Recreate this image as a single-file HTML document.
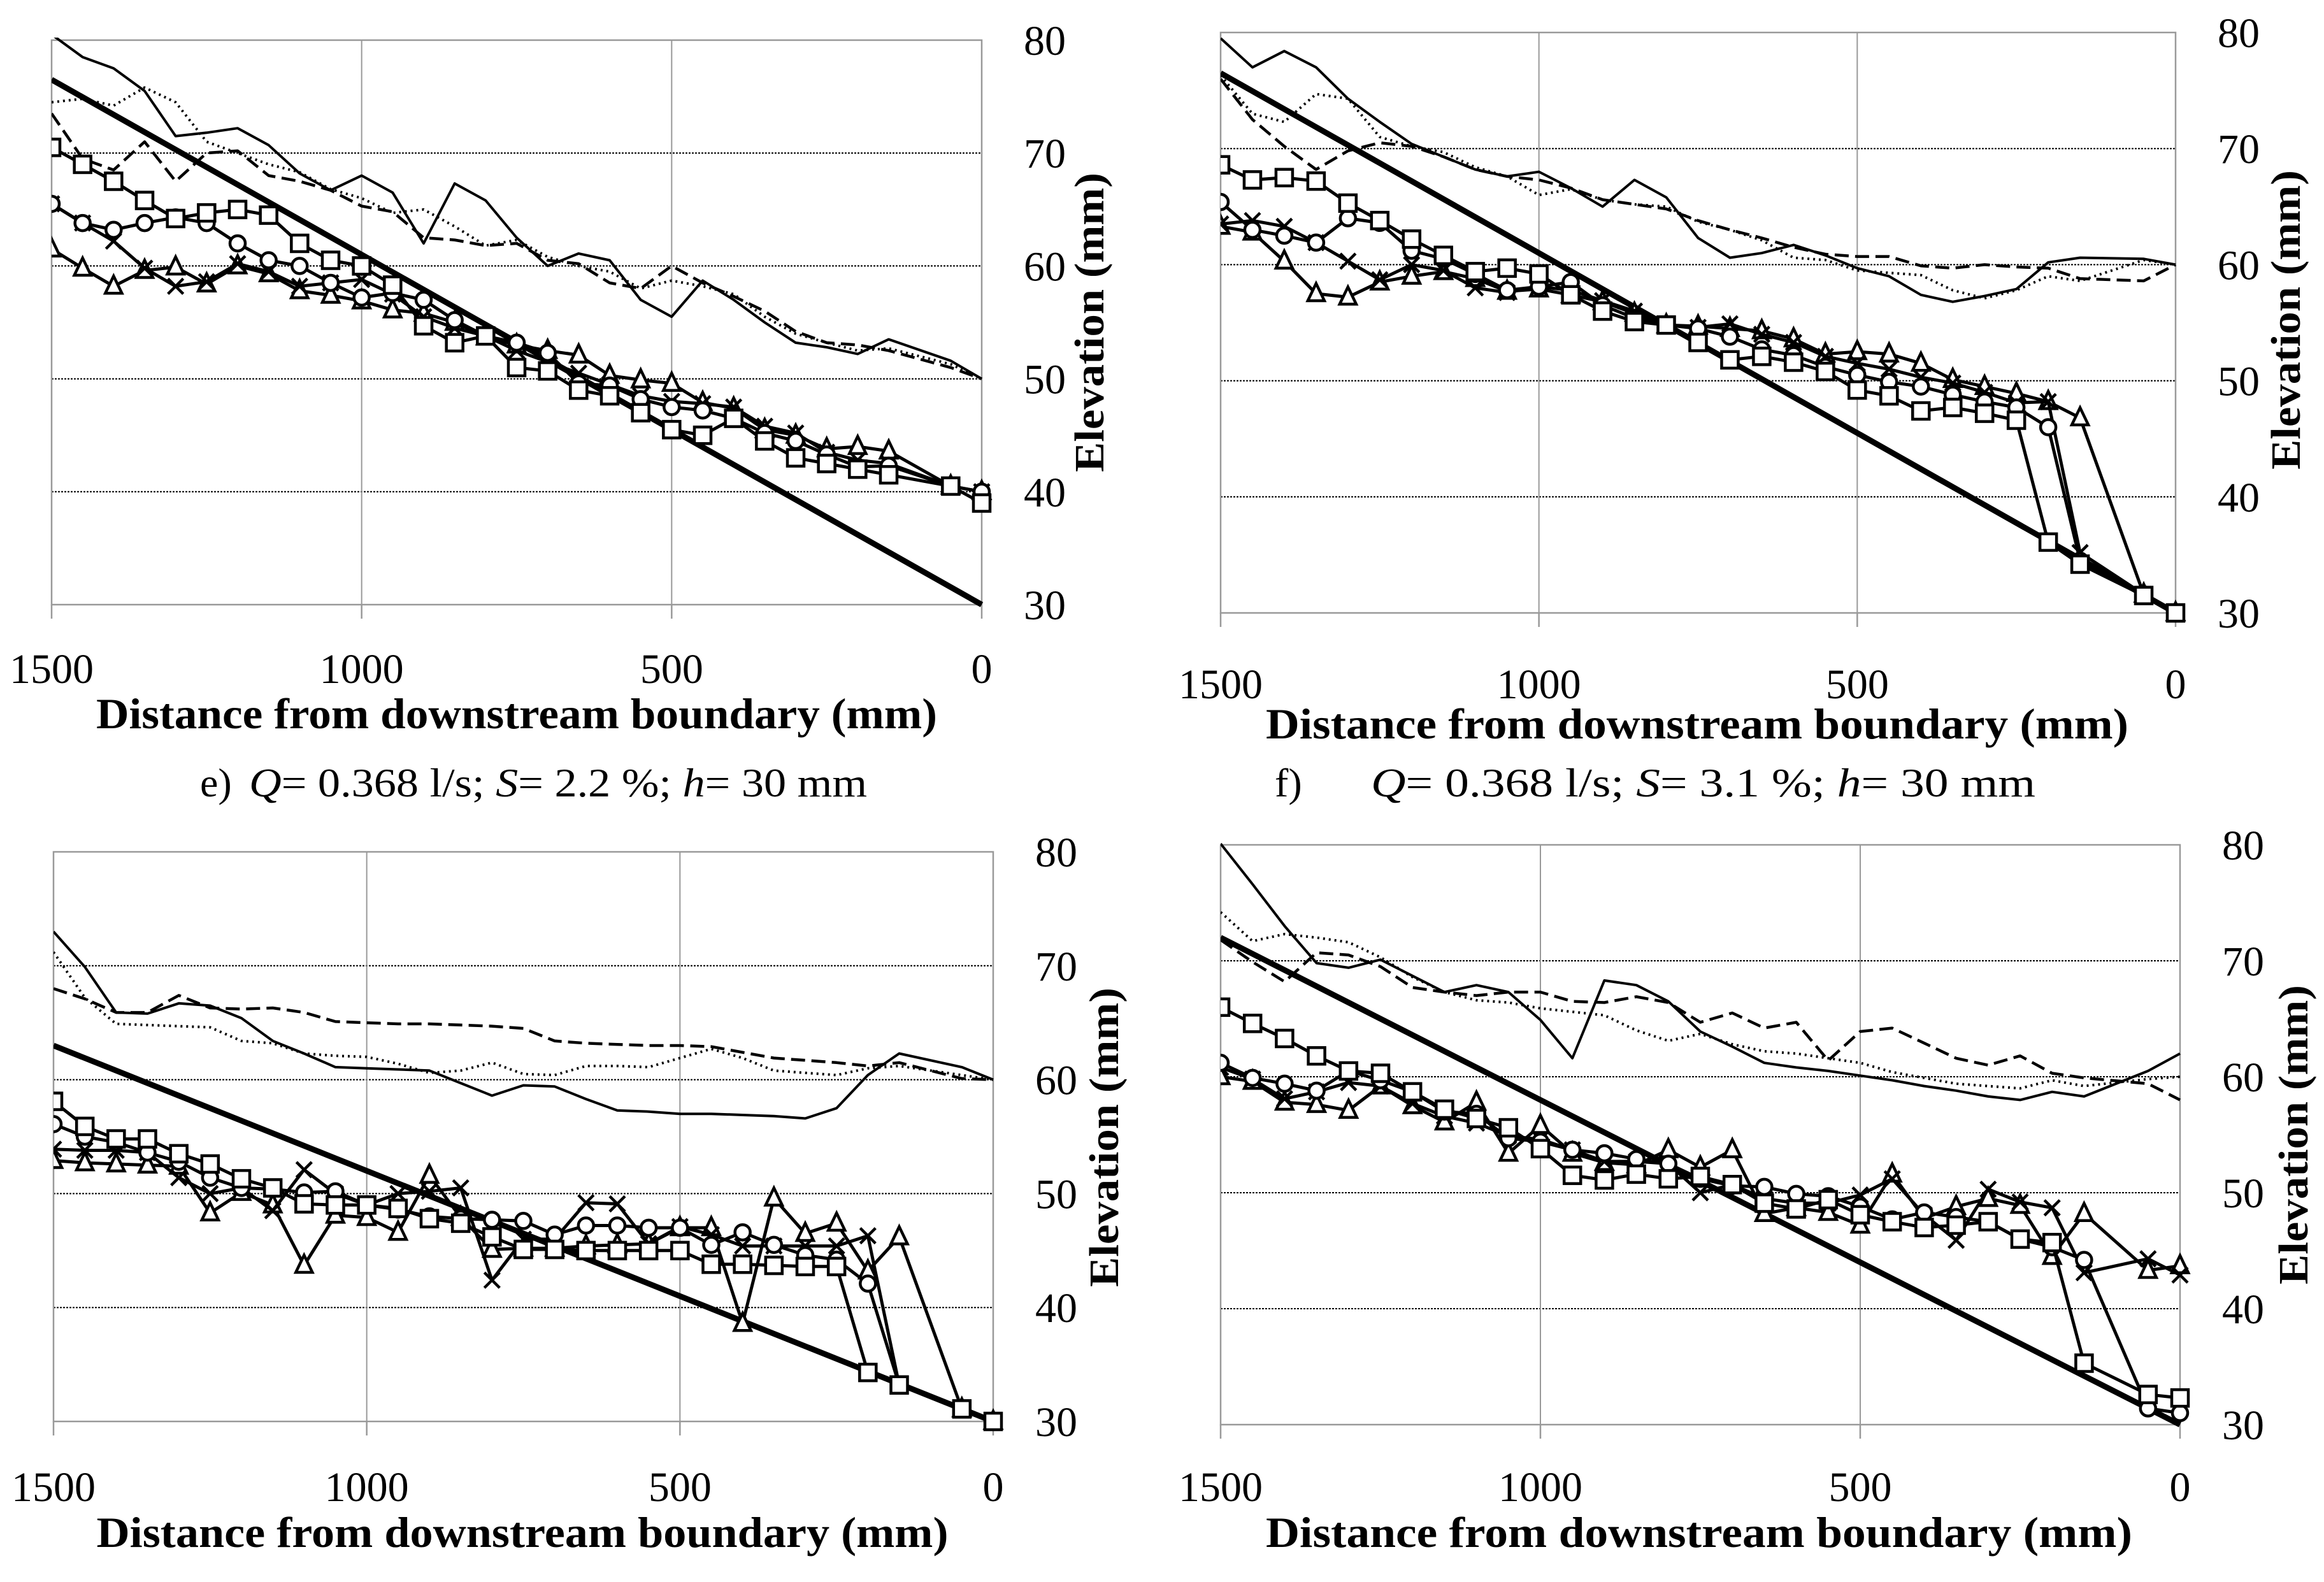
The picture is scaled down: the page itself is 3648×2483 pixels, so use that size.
<!DOCTYPE html>
<html><head><meta charset="utf-8"><title>Bed and water-surface profiles</title>
<style>
html,body{margin:0;padding:0;background:#fff;}
svg{display:block;}
text{font-family:"Liberation Serif",serif;fill:#000;}
</style></head>
<body>
<svg id="fig" width="3648" height="2483" viewBox="0 0 3648 2483" xmlns="http://www.w3.org/2000/svg">
<rect width="3648" height="2483" fill="#fff"/>
<text font-size="64" y="1250"><tspan x="314">e)</tspan></text>
<text font-size="64" x="391" y="1250" textLength="970" lengthAdjust="spacingAndGlyphs"><tspan font-style="italic">Q</tspan>= 0.368 l/s; <tspan font-style="italic">S</tspan>= 2.2 %; <tspan font-style="italic">h</tspan>= 30 mm</text>
<text font-size="64" y="1250"><tspan x="2001">f)</tspan></text>
<text font-size="64" x="2152" y="1250" textLength="1043" lengthAdjust="spacingAndGlyphs"><tspan font-style="italic">Q</tspan>= 0.368 l/s; <tspan font-style="italic">S</tspan>= 3.1 %; <tspan font-style="italic">h</tspan>= 30 mm</text>
</svg>
<script>
// shared distance categories (mm from downstream boundary)
const xDist = [1500,1450,1400,1350,1300,1250,1200,1150,1100,1050,1000,950,900,850,800,750,700,650,600,550,500,450,400,350,300,250,200,150,50,0];
const xTicks = [1500,1000,500,0];
const yTicks = [30,40,50,60,70,80];

// Panel 1 (top-left)
const p1Bed = [76.5,30];
const p1Solid = [80.5,78.5,77.5,75.5,71.5,71.8,72.2,70.7,68.2,66.7,68,66.5,62,67.3,65.8,62.5,60,61.1,60.5,57,55.5,58.7,57,55,53.2,52.8,52.2,53.5,51.6,50];
const p1Dotted = [74.5,74.8,74.2,75.8,74.5,71,70,69,68.3,66.8,66,64.7,65,63.5,61.8,62.3,60.8,60,59.5,58,58.7,58.2,57.5,55.5,54,53.2,52.5,52.7,51.3,50];
const p1Dashed = [73.5,69.5,68.5,71,67.5,70,70.2,68,67.5,66.7,65.3,64.8,62.5,62.3,61.8,62,60.5,60.2,58.5,58,60,58.5,57.3,56,54.2,53.2,53,52.5,51,50];
const p1Square = [70.5,69,67.5,65.8,64.2,64.7,65,64.5,62,60.5,60,58.3,54.7,53.2,53.8,51,50.7,49,48.5,47,45.5,45,46.5,44.5,43,42.5,42,41.5,40.5,39];
const p1Circle = [65.5,63.8,63.2,63.8,64.3,63.8,62,60.5,60,58.5,57.2,57.6,57,55.2,53.8,53.2,52.3,49.6,49.4,48.2,47.5,47.2,46.5,45.2,44.5,43.3,42.2,42.3,40.5,40];
const p1Cross = [65.5,63.8,62.2,59.8,58.2,58.6,60.2,59.5,58.2,58.5,58.8,57.5,55.5,54.5,53.8,52.5,51.5,50.5,49.5,48.5,48,47.8,47.5,45.8,45.2,43.5,42.8,42.5,40.5,40];
const p1Triangle = [61.5,59.8,58.2,59.6,59.9,58.4,60,59.3,57.8,57.4,56.9,56.1,55.8,55,53.7,53,52.5,52.1,50.3,49.9,49.6,47.9,47.4,45.5,45,43.8,44,43.6,40.5,40];

// Panel 2 (top-right)
const p2Bed = [76.5,30];
const p2Solid = [79.5,77,78.4,77,74.3,72.3,70.4,69.3,68.2,67.6,68,66.6,65,67.3,65.8,62.3,60.6,61,61.7,60.8,59.7,59,57.4,56.8,57.3,57.9,60.2,60.6,60.5,60];
const p2Dotted = [76.3,73,72.3,74.7,74.3,71,70.2,69.7,68.4,67.6,66,66.5,65.6,65.2,65,63.7,63,62.1,60.6,60.4,59.5,59.3,59.1,57.8,57.1,57.8,59,58.6,60.4,60];
const p2Dashed = [76,72.5,70.2,68.2,69.8,70.5,70.2,69.3,68.2,67.6,67.3,66.6,65.6,65.2,64.8,63.8,63,62.3,61.5,60.9,60.7,60.7,59.9,59.7,60,59.8,59.7,58.8,58.6,60];
const p2Square = [68.6,67.3,67.5,67.2,65.3,63.8,62.2,60.8,59.4,59.7,59.2,57.4,56,55.1,54.8,53.3,51.8,52.1,51.6,50.8,49.2,48.7,47.4,47.7,47.2,46.6,36.1,34.2,31.5,30];
const p2Circle = [65.4,63,62.5,61.9,64,63.6,61.2,60.5,59.2,57.8,58.1,58.5,56.5,55.4,54.8,54.5,53.8,52.7,52.2,51.2,50.5,49.9,49.5,48.8,48.2,47.7,46,34.5,31.6,30];
const p2Cross = [63.5,63.8,63.3,61.9,60.3,58.7,60,59.5,58,57.6,58.1,57.8,56.9,56,54.8,54.6,54.9,54,53.3,52.1,51.5,51,50.3,49.8,49,48.1,48.2,35.2,31.6,30];
const p2Triangle = [63.3,62.8,60.3,57.5,57.2,58.5,59,59.4,58.8,57.7,57.9,57.4,56.8,55.8,54.8,54.7,54.5,54.3,53.6,52.3,52.5,52.3,51.5,50.1,49.5,48.9,48.2,46.8,31.6,30];

// Panel 3 (bottom-left)
const p3Bed = [63,30];
const p3Solid = [73,69.9,65.9,65.8,66.7,66.5,65.4,63.4,62.3,61.1,61,60.9,60.8,59.7,58.6,59.5,59.4,58.3,57.3,57.2,57,57,56.9,56.8,56.6,57.5,60.4,62.3,61.1,60];
const p3Dotted = [71.2,67.2,64.9,64.8,64.7,64.6,63.4,63.2,62.3,62.1,62,61.4,60.6,60.8,61.5,60.5,60.4,61.2,61.2,61.1,61.9,62.7,61.9,60.8,60.6,60.4,61,61.2,60.4,60];
const p3Dashed = [68,67.1,65.9,65.9,67.4,66.3,66.2,66.3,65.9,65.1,65,64.9,64.9,64.8,64.7,64.5,63.4,63.2,63.1,63,63,62.9,62.4,61.9,61.7,61.5,61.2,61.5,60.1,60];
const p3Square = [58.1,55.9,54.8,54.8,53.5,52.6,51.3,50.5,49.1,49,49,48.7,47.8,47.4,46.2,45.1,45.1,45,45,45,45,43.8,43.8,43.7,43.6,43.6,34.3,33.2,31.1,30];
const p3Circle = [56.1,55,54.5,53.6,52.8,51.4,50.5,50.4,50.1,50.2,49,48.6,48,47.8,47.7,47.6,46.4,47.2,47.2,47,47,45.5,46.6,45.5,44.6,44.2,42.1,33.2,31.1,30];
const p3Cross = [53.9,53.8,53.8,53.6,51.4,50,50.5,48.5,52.1,50,49,50,50.2,50.5,42.4,46,46,49.2,49.1,45.6,47.1,46.4,45.4,45.4,45.4,45.4,46.3,33.2,31.1,30];
const p3Triangle = [52.9,52.7,52.6,52.5,52.4,48.3,50.1,49,43.7,48.1,47.9,46.6,51.6,47.9,45.1,45.2,45.2,45.4,45.5,45.6,47,47,38.6,49.6,46.5,47.4,43.2,46.2,31.1,30];

// Panel 4 (bottom-right)
const p4Bed = [72,30];
const p4Solid = [80.1,76.6,73,69.8,69.4,70.1,68.7,67.3,67.9,67.3,64.9,61.6,68.3,67.9,66.5,63.9,62.6,61.2,60.8,60.5,60.1,59.7,59.2,58.8,58.3,58,58.7,58.3,60.5,62];
const p4Dotted = [74.2,71.7,72.3,72,71.6,70.3,68.6,67.3,66.6,66.4,65.9,65.6,65.3,64,63.1,63.7,62.8,62.2,62,61.6,61.2,60.4,59.9,59.4,59.2,59,59.7,59.2,59.8,60];
const p4Dashed = [71.8,69.9,68.2,70.7,70.5,69.5,67.7,67.3,67,67.3,67.3,66.5,66.4,66.9,66.4,64.7,65.5,64.2,64.7,61.4,63.9,64.2,62.9,61.6,61,61.8,60.3,59.9,59.4,58];
const p4Square = [66,64.6,63.3,61.8,60.5,60.3,58.7,57.2,56.4,55.6,53.8,51.5,51.1,51.6,51.2,51.4,50.7,49.1,48.6,49.4,48.1,47.5,47,47.2,47.5,46,45.7,35.3,32.6,32.3];
const p4Circle = [61.2,59.9,59.4,58.8,60.5,59.7,58.7,57,56.8,54.7,54.4,53.7,53.4,52.9,52.5,51.2,50.6,50.5,49.9,49.7,48.8,47.7,48.3,47.9,47.5,46,45.3,44.2,31.4,31];
const p4Cross = [60.8,59.8,58.1,58.7,59.5,59.2,57.7,56.6,56,54.9,54.6,53.7,52.7,52.7,52.5,50,50.7,49.5,49.1,49.1,49.8,51.2,48.1,45.9,50.3,49.2,48.7,43.1,44.3,42.9];
const p4Triangle = [60,59.6,57.8,57.6,57.1,59.2,57.5,56.1,57.8,53.4,55.8,53.4,52.6,52.4,53.7,52.2,53.7,48.2,48.7,48.3,47.2,51.6,47.8,48.8,49.5,48.9,44.5,48.2,43.3,43.7];

const NS = 'http://www.w3.org/2000/svg';
const svg = document.getElementById('fig');
function mk(tag, attrs, parent) {
  const e = document.createElementNS(NS, tag);
  for (const k in attrs) e.setAttribute(k, attrs[k]);
  (parent || svg).appendChild(e);
  return e;
}

const panels = [
  {id:'p1', box:{l:81,r:1541,t:63,b:949}, xlabY:1072, titleY:1143, titleX:811, titleW:1320, yTitleX:1710, yTitleY:506,
   bed:p1Bed, solid:p1Solid, dotted:p1Dotted, dashed:p1Dashed, sq:p1Square, ci:p1Circle, cr:p1Cross, tr:p1Triangle},
  {id:'p2', box:{l:1916,r:3415,t:51,b:962}, xlabY:1096, titleY:1159, titleX:2664, titleW:1354, yTitleX:3588, yTitleY:502,
   bed:p2Bed, solid:p2Solid, dotted:p2Dotted, dashed:p2Dashed, sq:p2Square, ci:p2Circle, cr:p2Cross, tr:p2Triangle},
  {id:'p3', box:{l:84,r:1559,t:1337,b:2231}, xlabY:2356, titleY:2428, titleX:820, titleW:1337, yTitleX:1733, yTitleY:1785,
   bed:p3Bed, solid:p3Solid, dotted:p3Dotted, dashed:p3Dashed, sq:p3Square, ci:p3Circle, cr:p3Cross, tr:p3Triangle},
  {id:'p4', box:{l:1916,r:3422,t:1326,b:2236}, xlabY:2356, titleY:2428, titleX:2667, titleW:1360, yTitleX:3600, yTitleY:1781,
   bed:p4Bed, solid:p4Solid, dotted:p4Dotted, dashed:p4Dashed, sq:p4Square, ci:p4Circle, cr:p4Cross, tr:p4Triangle}
];

panels.forEach(function(p) {
  const B = p.box;
  const g = mk('g', {});
  
  
  const X = function(v) { return B.l + (1500 - v) / 1500 * (B.r - B.l); };
  const Y = function(v) { return B.b - (v - 30) / 50 * (B.b - B.t); };

  const cp = mk('clipPath', {id: 'clip-' + p.id}, g);
  mk('rect', {x: B.l, y: B.t - 4, width: B.r - B.l + 20, height: B.b - B.t + 30}, cp);

  // gridlines
  yTicks.forEach(function(t) {
    if (t === 30 || t === 80) return;
    const gl = mk('line', {x1: B.l, x2: B.r, y1: Y(t), y2: Y(t), stroke: '#000', 'stroke-width': 2, 'stroke-dasharray': '3,2'}, g);
    
    
  });
  xTicks.forEach(function(t) {
    if (t === 1500 || t === 0) return;
    const gl = mk('line', {x1: X(t), x2: X(t), y1: B.t, y2: B.b, stroke: '#999', 'stroke-width': 2}, g);
    
    
  });
  const fr = mk('rect', {x: B.l, y: B.t, width: B.r - B.l, height: B.b - B.t, fill: 'none', stroke: '#999', 'stroke-width': 2.5}, g);
  
  

  // x ticks + labels
  xTicks.forEach(function(t) {
    const tk = mk('line', {x1: X(t), x2: X(t), y1: B.b, y2: B.b + 22, stroke: '#999', 'stroke-width': 2.5}, g);
    
    
    const tl = mk('text', {x: X(t), y: p.xlabY, 'font-size': 66, 'text-anchor': 'middle'}, g);
    tl.textContent = String(t);
    
    
  });
  // y labels on right
  yTicks.forEach(function(t) {
    const tl = mk('text', {x: B.r + 66, y: Y(t) + 23, 'font-size': 66}, g);
    tl.textContent = String(t);
    
    
  });
  const xt = mk('text', {x: p.titleX, y: p.titleY, 'font-size': 68, 'font-weight': 'bold', 'text-anchor': 'middle', textLength: p.titleW, lengthAdjust: 'spacingAndGlyphs'}, g);
  xt.textContent = 'Distance from downstream boundary (mm)';
  
  
  const yt = mk('text', {x: 0, y: 0, 'font-size': 66, 'font-weight': 'bold', 'text-anchor': 'middle', textLength: 470, lengthAdjust: 'spacingAndGlyphs', transform: 'translate(' + (p.yTitleX + 22) + ',' + p.yTitleY + ') rotate(-90)'}, g);
  yt.textContent = 'Elevation (mm)';
  
  

  const series = mk('g', {'clip-path': 'url(#clip-' + p.id + ')'}, g);
  function path(vals, xs, attrs, name) {
    let d = '';
    vals.forEach(function(v, i) { d += (i ? 'L' : 'M') + X(xs[i]).toFixed(1) + ' ' + Y(v).toFixed(1); });
    const a = Object.assign({d: d, fill: 'none', stroke: '#000', 'stroke-linejoin': 'round'}, attrs);
    const e = mk('path', a, series);
    
    
    return e;
  }
  path(p.solid, xDist, {'stroke-width': 4}, 'water-surface-solid');
  path(p.dotted, xDist, {'stroke-width': 4, 'stroke-dasharray': '3,6'}, 'water-surface-dotted');
  path(p.dashed, xDist, {'stroke-width': 4.5, 'stroke-dasharray': '22,10'}, 'water-surface-dashed');
  path(p.bed, [1500, 0], {'stroke-width': 9}, 'initial-bed-line');

  function markerSeries(vals, kind, name) {
    path(vals, xDist, {'stroke-width': 5}, name + '-line');
    vals.forEach(function(v, i) {
      const cx = X(xDist[i]), cy = Y(v);
      let m;
      if (kind === 'sq') m = mk('rect', {x: cx - 13, y: cy - 13, width: 26, height: 26, fill: '#fff', stroke: '#000', 'stroke-width': 4.5}, series);
      else if (kind === 'ci') m = mk('circle', {cx: cx, cy: cy, r: 12, fill: '#fff', stroke: '#000', 'stroke-width': 4.5}, series);
      else if (kind === 'tr') m = mk('path', {d: 'M' + cx + ' ' + (cy - 16) + 'L' + (cx + 13) + ' ' + (cy + 11) + 'L' + (cx - 13) + ' ' + (cy + 11) + 'Z', fill: '#fff', stroke: '#000', 'stroke-width': 4.5}, series);
      else m = mk('path', {d: 'M' + (cx - 12) + ' ' + (cy - 12) + 'L' + (cx + 12) + ' ' + (cy + 12) + 'M' + (cx + 12) + ' ' + (cy - 12) + 'L' + (cx - 12) + ' ' + (cy + 12), stroke: '#000', 'stroke-width': 4.5}, series);
      
      
    });
  }
  markerSeries(p.tr, 'tr', 'bed-triangle');
  markerSeries(p.cr, 'cr', 'bed-cross');
  markerSeries(p.ci, 'ci', 'bed-circle');
  markerSeries(p.sq, 'sq', 'bed-square');
});
</script>
</body></html>
